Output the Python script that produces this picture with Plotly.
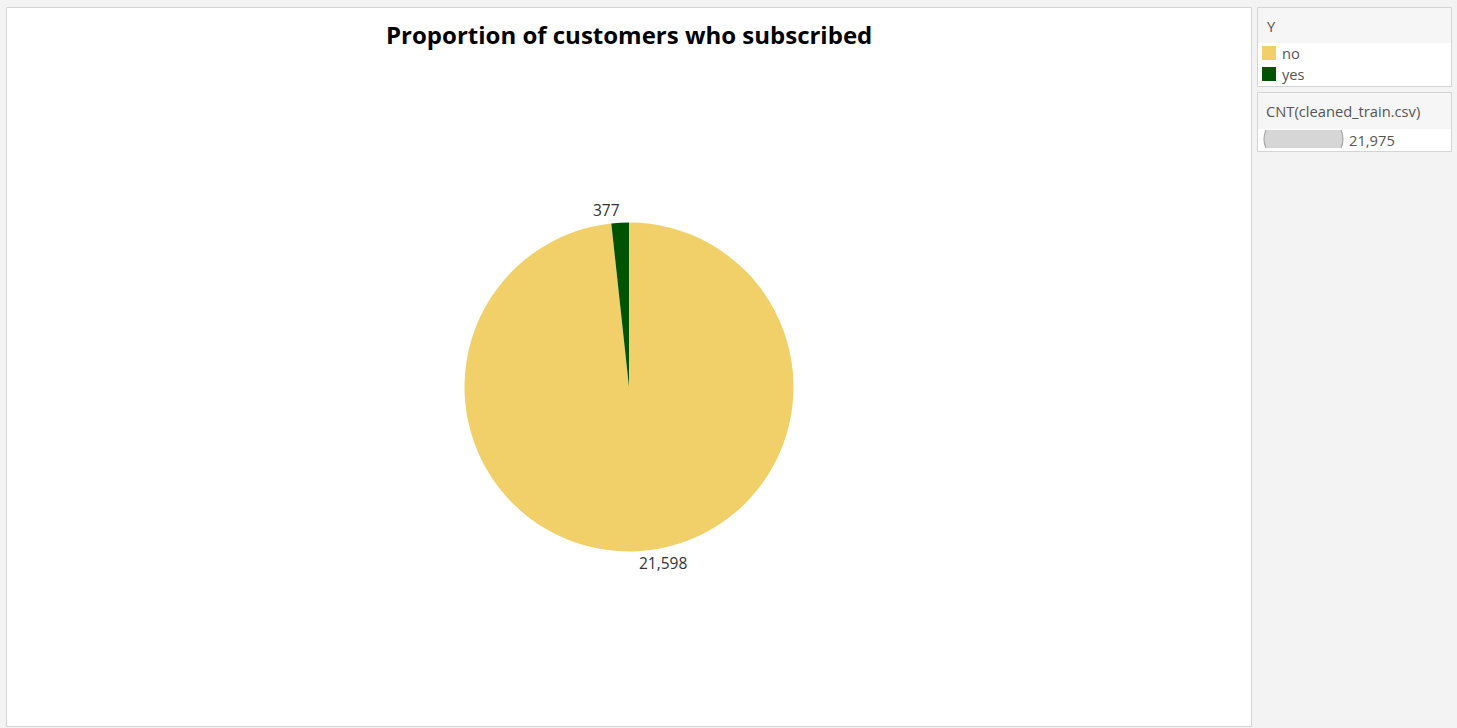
import plotly.graph_objects as go

W, H = 1457, 728

categories = ["no", "yes"]
counts = [21598, 377]
colors = ["#f1cf69", "#005300"]
title_text = "Proportion of customers who subscribed"
legend_title = "Y"
size_title = "CNT(cleaned_train.csv)"
total = sum(counts)

FONT = "Open Sans"


def px(x):
    return x / W


def py(y):
    return 1 - y / H


fig = go.Figure()

fig.add_trace(go.Pie(
    labels=categories,
    values=counts,
    marker=dict(colors=colors, line=dict(width=0)),
    sort=False,
    direction="clockwise",
    rotation=0,
    textinfo="none",
    hoverinfo="label+value",
    showlegend=False,
    domain=dict(x=[px(464.5), px(793.5)], y=[py(551.5), py(222.5)]),
))

shapes = []
# main panel
shapes.append(dict(type="rect", xref="paper", yref="paper",
                   x0=px(6.5), x1=px(1251.5), y0=py(726.5), y1=py(7.5),
                   fillcolor="white", line=dict(color="#d4d4d4", width=1), layer="below"))
# legend panel 1
shapes.append(dict(type="rect", xref="paper", yref="paper",
                   x0=px(1257.5), x1=px(1451.5), y0=py(86.5), y1=py(7.5),
                   fillcolor="white", line=dict(color="#d4d4d4", width=1), layer="below"))
shapes.append(dict(type="rect", xref="paper", yref="paper",
                   x0=px(1258), x1=px(1451), y0=py(43), y1=py(8),
                   fillcolor="#f6f6f6", line=dict(width=0), layer="below"))
# legend panel 2
shapes.append(dict(type="rect", xref="paper", yref="paper",
                   x0=px(1257.5), x1=px(1451.5), y0=py(151.5), y1=py(92.5),
                   fillcolor="white", line=dict(color="#d4d4d4", width=1), layer="below"))
shapes.append(dict(type="rect", xref="paper", yref="paper",
                   x0=px(1258), x1=px(1451), y0=py(129), y1=py(93),
                   fillcolor="#f6f6f6", line=dict(width=0), layer="below"))
# size bar
shapes.append(dict(type="path", xref="paper", yref="paper",
                   path=(f"M {px(1266)},{py(130)} L {px(1341)},{py(130)} "
                         f"Q {px(1345)},{py(139)} {px(1341)},{py(148)} "
                         f"L {px(1266)},{py(148)} Q {px(1262)},{py(139)} {px(1266)},{py(130)} Z"),
                   fillcolor="#d6d6d6", line=dict(width=0)))
# darker curved edges of size bar
shapes.append(dict(type="path", xref="paper", yref="paper",
                   path=f"M {px(1266)},{py(130)} Q {px(1262)},{py(139)} {px(1266)},{py(148)}",
                   line=dict(color="#a8a8a8", width=1.2)))
shapes.append(dict(type="path", xref="paper", yref="paper",
                   path=f"M {px(1341)},{py(130)} Q {px(1345)},{py(139)} {px(1341)},{py(148)}",
                   line=dict(color="#a8a8a8", width=1.2)))

# swatches
sw_y = [46, 67]
for i, c in enumerate(colors):
    shapes.append(dict(type="rect", xref="paper", yref="paper",
                       x0=px(1262), x1=px(1276), y0=py(sw_y[i] + 14), y1=py(sw_y[i]),
                       fillcolor=c, line=dict(width=0)))

annotations = []
annotations.append(dict(text=f"<b>{title_text}</b>", x=px(629), y=py(34), xref="paper", yref="paper",
                        showarrow=False, xanchor="center", yanchor="middle",
                        font=dict(family=FONT, size=24, color="#000000")))
# pie labels
annotations.append(dict(text=f"{counts[1]:,}", x=px(606), y=py(210), xref="paper", yref="paper",
                        showarrow=False, xanchor="center", yanchor="middle",
                        font=dict(family=FONT, size=15.5, color="#333333")))
annotations.append(dict(text=f"{counts[0]:,}", x=px(663), y=py(563), xref="paper", yref="paper",
                        showarrow=False, xanchor="center", yanchor="middle",
                        font=dict(family=FONT, size=15.5, color="#333333")))
# legend texts
annotations.append(dict(text=legend_title, x=px(1265), y=py(26), xref="paper", yref="paper",
                        showarrow=False, xanchor="left", yanchor="middle",
                        font=dict(family=FONT, size=14.7, color="#555555")))
for i, cat in enumerate(categories):
    annotations.append(dict(text=cat, x=px(1280), y=py(sw_y[i] + 7), xref="paper", yref="paper",
                            showarrow=False, xanchor="left", yanchor="middle",
                            font=dict(family=FONT, size=14.7, color="#555555")))
annotations.append(dict(text=size_title, x=px(1264), y=py(111), xref="paper", yref="paper",
                        showarrow=False, xanchor="left", yanchor="middle",
                        font=dict(family=FONT, size=14.7, color="#555555")))
annotations.append(dict(text=f"{total:,}", x=px(1347), y=py(140), xref="paper", yref="paper",
                        showarrow=False, xanchor="left", yanchor="middle",
                        font=dict(family=FONT, size=14.7, color="#555555")))

fig.update_layout(
    width=W, height=H,
    margin=dict(l=0, r=0, t=0, b=0),
    paper_bgcolor="#f3f3f3",
    plot_bgcolor="#f3f3f3",
    shapes=shapes,
    annotations=annotations,
    showlegend=False,
)

fig.write_html("out.html", config={"displayModeBar": False})
